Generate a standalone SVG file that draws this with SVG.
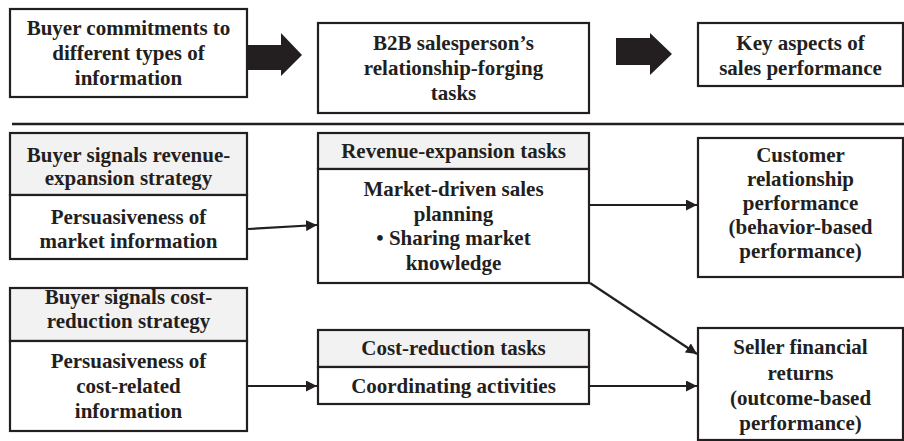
<svg xmlns="http://www.w3.org/2000/svg" width="904" height="441" viewBox="0 0 904 441">
<defs>
<marker id="ah" viewBox="0 0 10 10" refX="10" refY="5" markerWidth="5" markerHeight="5" orient="auto" markerUnits="strokeWidth">
<path d="M0,0 L10,5 L0,10 Z" fill="#231f20"/>
</marker>
<style>
.box{fill:#fff;stroke:#231f20;stroke-width:2.2}
.hdr{fill:#f2f2f2;stroke:#231f20;stroke-width:2.2}
.t{font-family:"Liberation Serif","Times New Roman",serif;font-weight:bold;font-size:21px;fill:#231f20;text-anchor:middle}
.con{stroke:#231f20;stroke-width:2.2;fill:none;marker-end:url(#ah)}
.big{fill:#231f20}
</style>
</defs>
<rect width="904" height="441" fill="#fff"/>

<g id="top-buyer">
<rect class="box" x="10" y="9" width="237" height="88"/>
<text class="t" x="128.5" y="35">Buyer commitments to</text>
<text class="t" x="128.5" y="60">different types of</text>
<text class="t" x="128.5" y="85">information</text>
</g>
<g id="top-b2b">
<rect class="box" x="318" y="23" width="271" height="90"/>
<text class="t" x="453.5" y="50">B2B salesperson’s</text>
<text class="t" x="453.5" y="75">relationship-forging</text>
<text class="t" x="453.5" y="100">tasks</text>
</g>
<g id="top-key">
<rect class="box" x="698" y="23" width="205" height="63"/>
<text class="t" x="800.5" y="50">Key aspects of</text>
<text class="t" x="800.5" y="75">sales performance</text>
</g>
<g id="big-arrows">
<polygon class="big" points="248,45 281,45 281,33 302,55 281,76 281,70 248,70"/>
<polygon class="big" points="616,38 650,38 650,33 672,54 650,75 650,65 616,65"/>
</g>
<line x1="12" y1="124" x2="904" y2="124" stroke="#231f20" stroke-width="2.4"/>

<g id="revenue-signal">
<rect class="hdr" x="10" y="133" width="237" height="62"/>
<rect class="box" x="10" y="195" width="237" height="64"/>
<text class="t" x="128.5" y="162">Buyer signals revenue-</text>
<text class="t" x="128.5" y="185">expansion strategy</text>
<text class="t" x="128.5" y="224">Persuasiveness of</text>
<text class="t" x="128.5" y="248">market information</text>
</g>
<g id="cost-signal">
<rect class="hdr" x="10" y="288" width="237" height="53"/>
<rect class="box" x="10" y="341" width="237" height="90"/>
<text class="t" x="128.5" y="304">Buyer signals cost-</text>
<text class="t" x="128.5" y="328">reduction strategy</text>
<text class="t" x="128.5" y="368">Persuasiveness of</text>
<text class="t" x="128.5" y="393">cost-related</text>
<text class="t" x="128.5" y="418">information</text>
</g>
<g id="revenue-tasks">
<rect class="hdr" x="318" y="133" width="271" height="36"/>
<rect class="box" x="318" y="169" width="271" height="114"/>
<text class="t" x="453.5" y="158">Revenue-expansion tasks</text>
<text class="t" x="453.5" y="196">Market-driven sales</text>
<text class="t" x="453.5" y="221">planning</text>
<text class="t" x="453.5" y="245">• Sharing market</text>
<text class="t" x="453.5" y="270">knowledge</text>
</g>
<g id="cost-tasks">
<rect class="hdr" x="318" y="330" width="271" height="37"/>
<rect class="box" x="318" y="367" width="271" height="37"/>
<text class="t" x="453.5" y="355">Cost-reduction tasks</text>
<text class="t" x="453.5" y="393">Coordinating activities</text>
</g>
<g id="customer-perf">
<rect class="box" x="698" y="138" width="205" height="139"/>
<text class="t" x="800.5" y="162">Customer</text>
<text class="t" x="800.5" y="186">relationship</text>
<text class="t" x="800.5" y="210">performance</text>
<text class="t" x="800.5" y="234">(behavior-based</text>
<text class="t" x="800.5" y="258">performance)</text>
</g>
<g id="seller-returns">
<rect class="box" x="698" y="328" width="205" height="112"/>
<text class="t" x="800.5" y="354">Seller financial</text>
<text class="t" x="800.5" y="380">returns</text>
<text class="t" x="800.5" y="405">(outcome-based</text>
<text class="t" x="800.5" y="430">performance)</text>
</g>

<g id="connectors">
<line class="con" x1="248" y1="229" x2="317" y2="225"/>
<line class="con" x1="590" y1="205" x2="697" y2="205"/>
<line class="con" x1="590" y1="283" x2="697" y2="354"/>
<line class="con" x1="248" y1="386" x2="317" y2="386"/>
<line class="con" x1="590" y1="386" x2="697" y2="386"/>
</g>
</svg>
